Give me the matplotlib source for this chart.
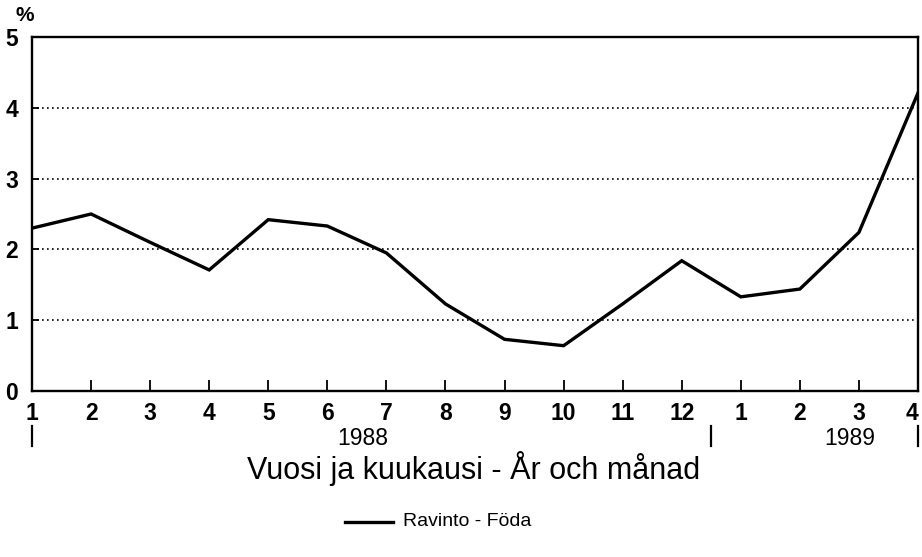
import matplotlib
matplotlib.use("Agg")
import matplotlib.pyplot as plt
from matplotlib.lines import Line2D

plt.rcParams['font.family'] = ['Liberation Sans', 'DejaVu Sans']

# Data
months = [1, 2, 3, 4, 5, 6, 7, 8, 9, 10, 11, 12, 1, 2, 3, 4]
values = [2.30, 2.50, 2.10, 1.71, 2.42, 2.33, 1.95, 1.23, 0.73, 0.64,
          1.23, 1.84, 1.33, 1.44, 2.24, 4.21]
year_labels = ["1988", "1989"]
series_name = "Ravinto - Föda"
xlabel = "Vuosi ja kuukausi - År och månad"
yticks = [0, 1, 2, 3, 4, 5]

x = list(range(1, len(values) + 1))

fig = plt.figure(figsize=(9.22, 5.57), dpi=100)
ax = fig.add_axes([32/922, 1 - 391/557, (918 - 32)/922, (391 - 37)/557])

ax.plot(x, values, color='black', lw=2.4, solid_joinstyle='miter')
ax.set_xlim(1, len(values))
ax.set_ylim(0, 5)

for y in yticks[1:-1]:
    ax.axhline(y, color='black', lw=1.2, ls=(0, (1, 2.0)), zorder=0)

for s in ax.spines.values():
    s.set_linewidth(1.7)

ax.set_xticks(x)
xt = ax.set_xticklabels([str(m) for m in months], fontsize=16.5, fontweight='bold')
xt[-1].set_horizontalalignment('right')
ax.set_yticks(yticks)
ax.set_yticklabels([str(t) for t in yticks], fontsize=16.5, fontweight='bold')
ax.tick_params(axis='x', direction='in', length=8, width=1.3, pad=8)
ax.tick_params(axis='y', direction='in', length=5, width=1.3, pad=10)

# "%" unit label
ax.text(-0.008, 1.035, "%", transform=ax.transAxes, fontsize=15,
        fontweight='bold', ha='center', va='bottom')

# Year separators and labels
trans = ax.get_xaxis_transform()
for xs in [1, 12.5, len(values)]:
    ax.add_line(Line2D([xs, xs], [-0.1, -0.155], transform=trans,
                       color='black', lw=1.6, clip_on=False))
ax.text(6.6, -0.135, year_labels[0], transform=trans, fontsize=16.5,
        ha='center', va='center')
ax.text(14.85, -0.135, year_labels[1], transform=trans, fontsize=16.5,
        ha='center', va='center')

# Axis title
fig.text(0.514, 1 - 469/557, xlabel, fontsize=22, ha='center', va='center')

# Legend
leg_y = 1 - 522/557
fig.add_artist(Line2D([345/922, 393/922], [leg_y, leg_y], color='black', lw=2.4))
fig.text(403/922, leg_y, series_name, fontsize=14, ha='left', va='center')

fig.savefig("out.png", dpi=100)
